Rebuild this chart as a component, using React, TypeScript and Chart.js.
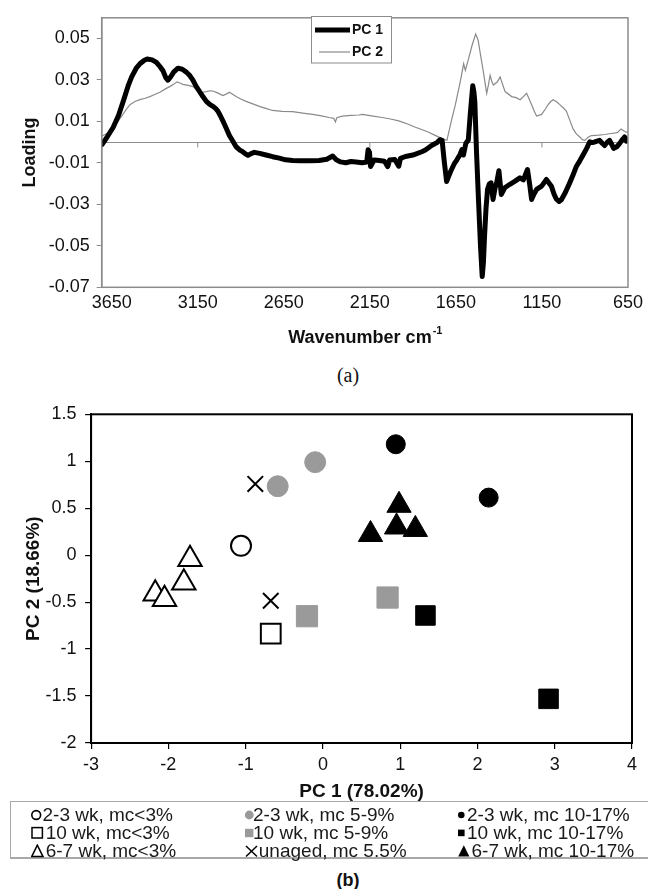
import React, { useEffect, useRef } from 'react';
import { Chart, registerables } from 'chart.js';

Chart.register(...registerables);

const SANS = '"Liberation Sans", Arial, Helvetica, sans-serif';
const SERIF = '"Liberation Serif", "Times New Roman", serif';

// ---------- Panel (a): loadings ----------
const wavenumberTicks = [3650, 3150, 2650, 2150, 1650, 1150, 650];
const loadingTicks = [-0.07, -0.05, -0.03, -0.01, 0.01, 0.03, 0.05];
const zeroLineTickMarks = [3150, 2150, 1150];

const pc1Wavenumber = [
  3705, 3680, 3641, 3610, 3583, 3555, 3534, 3505, 3486, 3460, 3444, 3415, 3390, 3370, 3351, 3335, 3323, 3305, 3290,
  3265, 3240, 3216, 3195, 3178, 3160, 3139, 3120, 3100, 3080, 3062, 3045, 3033, 3020, 3004, 2985, 2966, 2945, 2927,
  2905, 2889, 2870, 2858, 2840, 2821, 2790, 2753, 2715, 2676, 2640, 2599, 2550, 2500, 2445, 2400, 2366, 2345, 2320,
  2290, 2260, 2230, 2195, 2168, 2160, 2152, 2146, 2125, 2095, 2065, 2046, 2035, 2005, 1982, 1972, 1943, 1900, 1848,
  1827, 1789, 1760, 1742, 1730, 1718, 1704, 1692, 1680, 1660, 1644, 1625, 1615, 1606, 1592, 1578, 1566, 1552, 1545,
  1540, 1530, 1518, 1507, 1497, 1490, 1483, 1475, 1466, 1456, 1446, 1434, 1422, 1413, 1400, 1386, 1366, 1336, 1306,
  1278, 1258, 1234, 1221, 1210, 1196, 1181, 1152, 1124, 1095, 1080, 1066, 1050, 1037, 1014, 988, 970, 950, 930, 911,
  890, 872, 858, 843, 829, 815, 800, 786, 770, 757, 745, 733, 715, 699, 685, 670, 660, 650,
];
const pc1Loading = [
  -0.001, 0.002, 0.0072, 0.013, 0.0197, 0.027, 0.0315, 0.036, 0.0378, 0.0395, 0.0401, 0.0397, 0.0385, 0.0365, 0.0343,
  0.031, 0.0299, 0.0318, 0.0338, 0.0357, 0.0352, 0.0338, 0.032, 0.0299, 0.027, 0.0244, 0.022, 0.0197, 0.0182, 0.0173,
  0.0162, 0.015, 0.013, 0.0103, 0.0068, 0.0032, 0.0003, -0.0022, -0.0038, -0.0046, -0.0058, -0.0064, -0.0055, -0.0049,
  -0.0054, -0.0062, -0.007, -0.0077, -0.0085, -0.0088, -0.009, -0.009, -0.0088, -0.0082, -0.0067, -0.0085, -0.0095,
  -0.0099, -0.0093, -0.0096, -0.0099, -0.0096, -0.0036, -0.0048, -0.0117, -0.0086, -0.0088, -0.0092, -0.0118, -0.0086,
  -0.0083, -0.0116, -0.0078, -0.0069, -0.0062, -0.0046, -0.0038, -0.0015, -0.0002, 0.0012, 0.0009, -0.009, -0.019,
  -0.0165, -0.014, -0.0105, -0.0085, -0.0058, -0.0036, -0.0062, -0.0005, 0.001, 0.014, 0.0272, 0.024, 0.0195, -0.005,
  -0.029, -0.05, -0.0648, -0.058, -0.0446, -0.032, -0.0227, -0.0202, -0.0196, -0.0276, -0.022, -0.0196, -0.0138,
  -0.0252, -0.022, -0.0203, -0.0188, -0.0172, -0.0182, -0.0132, -0.0205, -0.0276, -0.025, -0.0228, -0.0212, -0.018,
  -0.0212, -0.025, -0.0275, -0.0286, -0.0278, -0.0243, -0.0195, -0.016, -0.0117, -0.009, -0.0062, -0.003, 0.0002,
  -0.0002, 0.0001, 0.0005, 0.0009, -0.0005, -0.0016, 0.0, 0.0009, -0.001, -0.003, -0.0022, -0.0007, 0.001, 0.0025,
  0.0005, 0.0015,
];

const pc2Wavenumber = [
  3705, 3670, 3641, 3615, 3592, 3565, 3544, 3515, 3486, 3455, 3428, 3400, 3370, 3340, 3313, 3290, 3270, 3250, 3236,
  3205, 3178, 3150, 3129, 3115, 3100, 3080, 3062, 3035, 3004, 2985, 2966, 2945, 2927, 2900, 2869, 2830, 2792, 2750,
  2715, 2660, 2599, 2540, 2483, 2430, 2387, 2360, 2350, 2342, 2310, 2260, 2213, 2194, 2140, 2078, 2030, 1982, 1930,
  1885, 1845, 1808, 1770, 1731, 1702, 1680, 1653, 1625, 1605, 1595, 1577, 1555, 1535, 1520, 1509, 1490, 1471, 1460,
  1451, 1440, 1432, 1410, 1393, 1375, 1364, 1326, 1300, 1277, 1258, 1239, 1225, 1210, 1195, 1181, 1152, 1130, 1114,
  1100, 1085, 1065, 1046, 1025, 1008, 990, 969, 950, 930, 915, 901, 880, 862, 820, 786, 750, 720, 709, 690, 675, 660,
  650,
];
const pc2Loading = [
  0.003, 0.0045, 0.0072, 0.0098, 0.0126, 0.0158, 0.0181, 0.0196, 0.0205, 0.0212, 0.022, 0.023, 0.0241, 0.0256, 0.0268,
  0.028, 0.0291, 0.0284, 0.0279, 0.0274, 0.0268, 0.0252, 0.0236, 0.0242, 0.0244, 0.0248, 0.0247, 0.0238, 0.0225,
  0.0232, 0.0241, 0.023, 0.022, 0.0208, 0.0197, 0.0185, 0.0173, 0.0162, 0.0153, 0.0149, 0.0147, 0.014, 0.0134, 0.0127,
  0.0119, 0.0115, 0.0098, 0.0118, 0.0126, 0.0129, 0.0131, 0.0134, 0.0127, 0.0119, 0.0112, 0.0103, 0.0088, 0.0072,
  0.006, 0.0048, 0.0033, 0.0017, 0.0009, 0.009, 0.0181, 0.029, 0.0378, 0.0346, 0.0401, 0.047, 0.0522, 0.049, 0.0432,
  0.0338, 0.0236, 0.028, 0.0323, 0.029, 0.0276, 0.029, 0.0315, 0.027, 0.0244, 0.022, 0.0215, 0.0205, 0.022, 0.0236,
  0.021, 0.0181, 0.015, 0.0126, 0.0134, 0.016, 0.0181, 0.0195, 0.0205, 0.0195, 0.0181, 0.0165, 0.015, 0.011, 0.0064,
  0.004, 0.0025, 0.0012, 0.0009, 0.0025, 0.0032, 0.0034, 0.0037, 0.0042, 0.0045, 0.0048, 0.0064, 0.0055, 0.0048,
  0.005,
];

// ---------- Panel (b): scores ----------
const pc1AxisMin = -3;
const pc1AxisMax = 4;
const pc2AxisMin = -2;
const pc2AxisMax = 1.5;

const groupLabels = [
  '2-3 wk, mc<3%',
  '10 wk, mc<3%',
  '6-7 wk, mc<3%',
  '2-3 wk, mc 5-9%',
  '10 wk, mc 5-9%',
  'unaged, mc 5.5%',
  '2-3 wk, mc 10-17%',
  '10 wk, mc 10-17%',
  '6-7 wk, mc 10-17%',
];

const wk23LowPC1 = [-1.06];
const wk23LowPC2 = [0.1];
const wk10LowPC1 = [-0.675];
const wk10LowPC2 = [-0.835];
const wk67LowPC1 = [-1.72, -1.8, -2.17, -2.05];
const wk67LowPC2 = [-0.044, -0.294, -0.412, -0.469];
const wk23MidPC1 = [-0.585, -0.1];
const wk23MidPC2 = [0.734, 0.99];
const wk10MidPC1 = [-0.206, 0.837];
const wk10MidPC2 = [-0.65, -0.451];
const unagedPC1 = [-0.875, -0.675];
const unagedPC2 = [0.759, -0.485];
const wk23HighPC1 = [0.943, 2.145];
const wk23HighPC2 = [1.181, 0.613];
const wk10HighPC1 = [1.327, 2.92];
const wk10HighPC2 = [-0.642, -1.53];
const wk67HighPC1 = [0.985, 0.616, 0.953, 1.196];
const wk67HighPC2 = [0.531, 0.22, 0.3, 0.274];

const groupPC1 = [wk23LowPC1, wk10LowPC1, wk67LowPC1, wk23MidPC1, wk10MidPC1, unagedPC1, wk23HighPC1, wk10HighPC1, wk67HighPC1];
const groupPC2 = [wk23LowPC2, wk10LowPC2, wk67LowPC2, wk23MidPC2, wk10MidPC2, unagedPC2, wk23HighPC2, wk10HighPC2, wk67HighPC2];

const GREY = '#9a9a9a';
const groupStyles = [
  { pointStyle: 'circle', fill: '#ffffff', stroke: '#000', radius: 10, bw: 2 },
  { pointStyle: 'rect', fill: '#ffffff', stroke: '#000', radius: 14, bw: 2 },
  { pointStyle: 'triangle', fill: '#ffffff', stroke: '#000', radius: 13.5, bw: 2 },
  { pointStyle: 'circle', fill: GREY, stroke: GREY, radius: 10.5, bw: 1 },
  { pointStyle: 'rect', fill: GREY, stroke: GREY, radius: 15, bw: 1 },
  { pointStyle: 'crossRot', fill: '#000', stroke: '#000', radius: 11, bw: 2 },
  { pointStyle: 'circle', fill: '#000', stroke: '#000', radius: 9.5, bw: 1 },
  { pointStyle: 'rect', fill: '#000', stroke: '#000', radius: 13.8, bw: 1 },
  { pointStyle: 'triangle', fill: '#000', stroke: '#000', radius: 14, bw: 1 },
];

const frameplugin = (id: string, color: string, width: number) => ({
  id,
  afterDatasetsDraw(chart: any) {
    const { ctx, chartArea: a } = chart;
    ctx.save();
    ctx.strokeStyle = color;
    ctx.lineWidth = width;
    ctx.strokeRect(a.left, a.top, a.right - a.left, a.bottom - a.top);
    ctx.restore();
  },
});

function LoadingChart() {
  const ref = useRef<HTMLCanvasElement | null>(null);
  useEffect(() => {
    if (!ref.current) return;
    const zeroLine = {
      id: 'zeroLine',
      beforeDatasetsDraw(chart: any) {
        const { ctx, chartArea: a, scales } = chart;
        const y0 = Math.round(scales.y.getPixelForValue(0)) + 0.5;
        ctx.save();
        ctx.strokeStyle = '#8c8c8c';
        ctx.lineWidth = 1;
        ctx.beginPath();
        ctx.moveTo(a.left, y0);
        ctx.lineTo(a.right, y0);
        zeroLineTickMarks.forEach((w) => {
          const x = scales.x.getPixelForValue(w);
          ctx.moveTo(x, y0);
          ctx.lineTo(x, y0 + 5);
        });
        ctx.stroke();
        ctx.restore();
      },
    };
    const legend = {
      id: 'boxLegend',
      afterDraw(chart: any) {
        const ctx = chart.ctx;
        ctx.save();
        ctx.fillStyle = '#ffffff';
        ctx.fillRect(311.5, 16.5, 80, 46.5);
        ctx.strokeStyle = '#8c8c8c';
        ctx.lineWidth = 1;
        ctx.strokeRect(311.5, 16.5, 80, 46.5);
        chart.data.datasets.forEach((ds: any, i: number) => {
          const y = 30 + i * 22;
          ctx.strokeStyle = ds.borderColor;
          ctx.lineWidth = ds.borderWidth;
          ctx.beginPath();
          ctx.moveTo(i === 0 ? 315 : 319, y);
          ctx.lineTo(350, y);
          ctx.stroke();
          ctx.fillStyle = '#111';
          ctx.font = `bold 14px ${SANS}`;
          ctx.textBaseline = 'middle';
          ctx.textAlign = 'left';
          ctx.fillText(ds.label, 352, y);
        });
        ctx.restore();
      },
    };
    const xTitle = {
      id: 'xTitle',
      afterDraw(chart: any) {
        const { ctx, chartArea: a } = chart;
        ctx.save();
        const main = 'Wavenumber cm';
        const sup = '-1';
        ctx.font = `bold 18px ${SANS}`;
        const w1 = ctx.measureText(main).width;
        ctx.font = `bold 11px ${SANS}`;
        const w2 = ctx.measureText(sup).width;
        const x0 = (a.left + a.right) / 2 - (w1 + w2) / 2;
        ctx.fillStyle = '#111';
        ctx.textBaseline = 'alphabetic';
        ctx.textAlign = 'left';
        ctx.font = `bold 18px ${SANS}`;
        ctx.fillText(main, x0, 342.5);
        ctx.font = `bold 11px ${SANS}`;
        ctx.fillText(sup, x0 + w1 + 1, 334);
        ctx.restore();
      },
    };
    const chart = new Chart(ref.current, {
      type: 'line',
      data: {
        datasets: [
          {
            label: 'PC 1',
            data: pc1Wavenumber.map((x, i) => ({ x, y: pc1Loading[i] })),
            borderColor: '#000000',
            borderWidth: 5,
            pointRadius: 0,
            tension: 0,
            borderJoinStyle: 'round',
            borderCapStyle: 'round',
          },
          {
            label: 'PC 2',
            data: pc2Wavenumber.map((x, i) => ({ x, y: pc2Loading[i] })),
            borderColor: '#8a8a8a',
            borderWidth: 1.2,
            pointRadius: 0,
            tension: 0,
          },
        ],
      },
      options: {
        responsive: false,
        animation: false,
        events: [],
        layout: { padding: { top: 10.7, right: 18, bottom: 0, left: 0 } },
        plugins: { legend: { display: false }, tooltip: { enabled: false } },
        scales: {
          x: {
            type: 'linear',
            reverse: true,
            min: 650,
            max: 3708,
            afterBuildTicks: (s: any) => {
              s.ticks = wavenumberTicks.map((v) => ({ value: v }));
            },
            ticks: {
              autoSkip: false,
              maxRotation: 0,
              padding: 5,
              color: '#111',
              font: { family: SANS, size: 18 },
              callback: (v: any) => String(v),
            },
            grid: { display: false, drawTicks: false },
            border: { display: false },
            afterFit: (s: any) => {
              s.height = 62.7;
            },
          },
          y: {
            type: 'linear',
            min: -0.07,
            max: 0.06,
            afterBuildTicks: (s: any) => {
              s.ticks = loadingTicks.map((v) => ({ value: v }));
            },
            ticks: {
              autoSkip: false,
              padding: 7,
              color: '#111',
              font: { family: SANS, size: 18 },
              callback: (v: any) => Number(v).toFixed(2),
            },
            grid: { drawOnChartArea: false, drawTicks: true, tickLength: 5, color: '#8c8c8c' },
            border: { display: true, color: '#8c8c8c', width: 1.5 },
            title: {
              display: true,
              text: 'Loading',
              color: '#111',
              font: { family: SANS, size: 18, weight: 'bold' },
              padding: { top: 19, bottom: 0 },
            },
            afterFit: (s: any) => {
              s.width = 101.7;
            },
          },
        },
      },
      plugins: [zeroLine, frameplugin('frameA', '#8c8c8c', 1.5), legend, xTitle],
    } as any);
    return () => chart.destroy();
  }, []);
  return <canvas ref={ref} width={648} height={350} style={{ position: 'absolute', left: 0, top: 0, width: 648, height: 350 }} />;
}

const plainNumber = (v: any) => String(Math.round(Number(v) * 100) / 100);

function ScoreChart() {
  const ref = useRef<HTMLCanvasElement | null>(null);
  useEffect(() => {
    if (!ref.current) return;
    const chart = new Chart(ref.current, {
      type: 'scatter',
      data: {
        datasets: groupLabels.map((label, g) => ({
          label,
          data: groupPC1[g].map((x, i) => ({ x, y: groupPC2[g][i] })),
          showLine: false,
          pointStyle: groupStyles[g].pointStyle,
          pointRadius: groupStyles[g].radius,
          pointBackgroundColor: groupStyles[g].fill,
          pointBorderColor: groupStyles[g].stroke,
          pointBorderWidth: groupStyles[g].bw,
        })),
      },
      options: {
        responsive: false,
        animation: false,
        events: [],
        layout: { padding: { top: 13.5, right: 6, bottom: 0, left: 0 } },
        plugins: { legend: { display: false }, tooltip: { enabled: false } },
        scales: {
          x: {
            type: 'linear',
            min: pc1AxisMin,
            max: pc1AxisMax,
            ticks: { stepSize: 1, padding: 5, color: '#111', font: { family: SANS, size: 18 }, callback: plainNumber },
            grid: { drawOnChartArea: false, drawTicks: true, tickLength: 6, color: '#000', lineWidth: 1.2 },
            border: { display: true, color: '#000', width: 2 },
            title: {
              display: true,
              text: 'PC 1 (78.02%)',
              color: '#111',
              font: { family: SANS, size: 19, weight: 'bold' },
              padding: { top: 0, bottom: 1.6 },
            },
            afterFit: (s: any) => {
              s.height = 62;
            },
          },
          y: {
            type: 'linear',
            min: pc2AxisMin,
            max: pc2AxisMax,
            ticks: { stepSize: 0.5, padding: 8.5, color: '#111', font: { family: SANS, size: 18 }, callback: plainNumber },
            grid: { drawOnChartArea: false, drawTicks: true, tickLength: 6, color: '#000', lineWidth: 1.2 },
            border: { display: true, color: '#000', width: 2 },
            title: {
              display: true,
              text: 'PC 2 (18.66%)',
              color: '#111',
              font: { family: SANS, size: 19, weight: 'bold' },
              padding: { top: 22.6, bottom: 0 },
            },
            afterFit: (s: any) => {
              s.width = 91.1;
            },
          },
        },
      },
      plugins: [frameplugin('frameB', '#000', 2)],
    } as any);
    return () => chart.destroy();
  }, []);
  return <canvas ref={ref} width={648} height={410} style={{ position: 'absolute', left: 0, top: 395, width: 648, height: 410 }} />;
}

const legendColumns = [
  { left: 31, items: [0, 1, 2] },
  { left: 244.5, items: [3, 4, 5] },
  { left: 458, items: [6, 7, 8] },
];
const markerWidths = [10.5, 13.7, 13.7, 7.5, 7.5, 13.3, 8, 8, 12.5];

function Marker({ g }: { g: number }) {
  let shape: any = null;
  if (g === 0) shape = <circle cx={5.2} cy={7} r={4.4} fill="#fff" stroke="#000" strokeWidth={1.6} />;
  if (g === 1) shape = <rect x={1} y={1.6} width={10.4} height={10.4} fill="#fff" stroke="#000" strokeWidth={1.5} />;
  if (g === 2) shape = <polygon points="6.3,1.2 12,12.6 0.7,12.6" fill="#fff" stroke="#000" strokeWidth={1.5} />;
  if (g === 3) shape = <circle cx={4.3} cy={7} r={4.4} fill={GREY} />;
  if (g === 4) shape = <rect x={0} y={2.8} width={8.4} height={8.4} fill={GREY} />;
  if (g === 5)
    shape = (
      <g stroke="#000" strokeWidth={1.5}>
        <line x1={1} y1={2} x2={12} y2={12.5} />
        <line x1={12} y1={2} x2={1} y2={12.5} />
      </g>
    );
  if (g === 6) shape = <circle cx={3.3} cy={7} r={3.3} fill="#000" />;
  if (g === 7) shape = <rect x={0} y={3.6} width={6.6} height={6.6} fill="#000" />;
  if (g === 8) shape = <polygon points="5.8,1.2 11.4,12.6 0.2,12.6" fill="#000" />;
  return (
    <svg width={14} height={14} style={{ position: 'absolute', left: 0, top: 2.5 }}>
      {shape}
    </svg>
  );
}

export default function App() {
  return (
    <div
      style={{
        position: 'absolute',
        left: 0,
        top: 0,
        width: 648,
        height: 889,
        background: '#ffffff',
        overflow: 'hidden',
        fontFamily: SANS,
      }}
    >
      <LoadingChart />
      <div
        style={{
          position: 'absolute',
          left: 298,
          top: 363,
          width: 100,
          textAlign: 'center',
          fontFamily: SERIF,
          fontSize: 20,
          lineHeight: '24px',
          color: '#111',
        }}
      >
        (a)
      </div>
      <ScoreChart />
      <div
        style={{
          position: 'absolute',
          left: 10,
          top: 801,
          width: 650,
          height: 58,
          border: '1px solid #a8a8a8',
          borderBottom: '2px solid #a8a8a8',
          boxSizing: 'border-box',
          background: 'transparent',
        }}
      />
      {legendColumns.map((col, c) =>
        col.items.map((g, r) => (
          <div
            key={`${c}-${r}`}
            style={{
              position: 'absolute',
              left: col.left,
              top: 805 + r * 18.2,
              height: 19,
              whiteSpace: 'nowrap',
              fontSize: 19,
              lineHeight: '19px',
              color: '#1a1a1a',
            }}
          >
            <Marker g={g} />
            <span style={{ position: 'absolute', left: markerWidths[g] + 1, top: 0 }}>{groupLabels[g]}</span>
          </div>
        )),
      )}
      <div
        style={{
          position: 'absolute',
          left: 298,
          top: 869,
          width: 100,
          textAlign: 'center',
          fontWeight: 'bold',
          fontSize: 18,
          lineHeight: '22px',
          color: '#111',
        }}
      >
        (b)
      </div>
    </div>
  );
}
